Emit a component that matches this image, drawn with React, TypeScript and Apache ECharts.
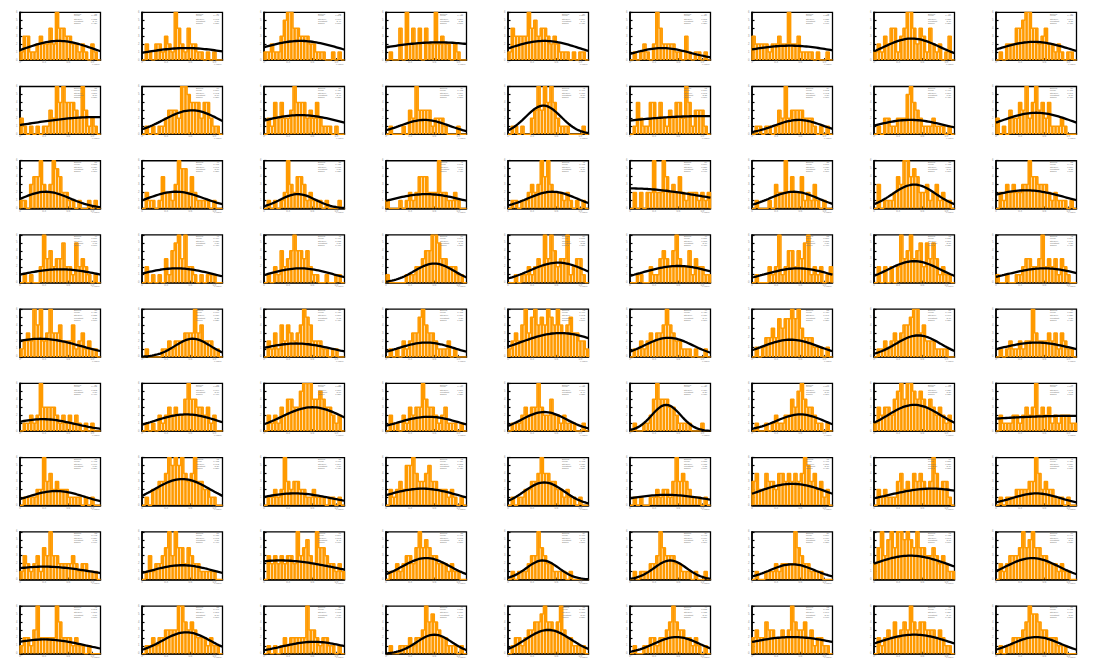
import React, { useEffect, useRef } from "react";
import * as echarts from "echarts";

// ---------- data ----------
const NBINS = 25;

const binsRow0: number[][] = [
  [1, 3, 3, 1, 1, 2, 3, 2, 2, 4, 2, 6, 4, 4, 3, 3, 2, 2, 1, 2, 1, 0, 2, 1, 0],
  [0, 2, 1, 0, 2, 2, 1, 3, 2, 1, 6, 4, 2, 1, 4, 2, 2, 1, 1, 0, 1, 0, 1, 0, 0],
  [1, 1, 2, 1, 1, 3, 5, 6, 6, 4, 4, 3, 3, 3, 2, 2, 1, 1, 1, 0, 0, 1, 0, 1, 0],
  [0, 1, 0, 0, 4, 0, 6, 2, 4, 2, 4, 0, 4, 2, 2, 6, 2, 3, 2, 2, 0, 2, 1, 0, 0],
  [1, 4, 3, 3, 3, 3, 6, 4, 5, 3, 4, 4, 3, 2, 3, 2, 1, 1, 1, 0, 1, 0, 1, 1, 0],
  [0, 1, 0, 1, 2, 1, 0, 2, 6, 4, 2, 2, 2, 2, 1, 1, 0, 3, 1, 0, 1, 1, 0, 1, 0],
  [3, 2, 2, 2, 2, 1, 2, 2, 3, 2, 2, 6, 2, 2, 3, 1, 1, 1, 1, 0, 1, 0, 0, 1, 0],
  [1, 2, 1, 3, 2, 4, 4, 1, 3, 4, 6, 6, 4, 2, 4, 3, 1, 4, 2, 1, 2, 0, 1, 3, 0],
  [0, 1, 0, 2, 2, 2, 4, 4, 5, 6, 6, 4, 4, 2, 3, 4, 2, 2, 1, 2, 1, 0, 1, 1, 0],
];
const binsRow1: number[][] = [
  [2, 1, 0, 1, 0, 1, 0, 1, 1, 3, 2, 6, 4, 6, 4, 4, 4, 3, 2, 6, 3, 1, 2, 1, 0],
  [0, 1, 0, 1, 0, 1, 1, 2, 3, 3, 3, 2, 6, 6, 5, 4, 4, 4, 2, 4, 4, 2, 1, 1, 0],
  [0, 2, 1, 4, 2, 4, 2, 2, 3, 6, 4, 4, 4, 2, 3, 2, 4, 2, 1, 1, 1, 0, 1, 0, 0],
  [0, 1, 0, 0, 0, 1, 0, 3, 2, 6, 3, 3, 3, 3, 1, 2, 2, 2, 1, 0, 0, 0, 1, 0, 0],
  [0, 1, 1, 0, 1, 0, 0, 2, 3, 6, 3, 6, 4, 6, 4, 2, 1, 1, 1, 0, 0, 0, 0, 1, 0],
  [0, 1, 4, 2, 1, 1, 4, 4, 2, 4, 2, 1, 3, 2, 4, 4, 2, 6, 4, 1, 3, 3, 3, 1, 0],
  [0, 1, 1, 0, 1, 1, 0, 1, 3, 2, 6, 2, 3, 3, 3, 3, 2, 2, 2, 1, 0, 1, 0, 1, 0],
  [0, 1, 0, 2, 2, 1, 1, 2, 2, 2, 5, 6, 4, 3, 2, 1, 1, 1, 2, 1, 1, 1, 0, 1, 0],
  [2, 0, 1, 0, 3, 2, 2, 4, 3, 6, 2, 4, 6, 3, 4, 2, 4, 1, 1, 1, 2, 1, 0, 0, 0],
];
const binsRow2: number[][] = [
  [1, 1, 0, 3, 4, 4, 6, 3, 2, 3, 6, 5, 4, 2, 2, 1, 1, 0, 1, 0, 0, 1, 0, 1, 0],
  [0, 2, 1, 1, 0, 1, 4, 2, 2, 1, 3, 6, 5, 5, 2, 4, 2, 1, 1, 1, 1, 0, 1, 0, 0],
  [0, 1, 0, 1, 0, 1, 2, 6, 3, 2, 4, 4, 3, 1, 2, 1, 1, 1, 0, 1, 0, 0, 0, 1, 0],
  [1, 0, 0, 0, 1, 0, 1, 2, 1, 2, 4, 4, 4, 2, 2, 2, 6, 2, 2, 1, 1, 2, 1, 0, 0],
  [0, 1, 1, 0, 1, 1, 2, 3, 2, 3, 6, 4, 6, 3, 2, 2, 2, 1, 2, 1, 0, 1, 0, 1, 0],
  [0, 2, 0, 2, 0, 2, 2, 6, 2, 2, 6, 4, 2, 3, 2, 4, 2, 1, 2, 2, 2, 1, 2, 1, 2],
  [0, 1, 0, 0, 0, 1, 0, 3, 2, 2, 6, 2, 4, 2, 2, 4, 1, 2, 1, 3, 1, 0, 1, 0, 0],
  [0, 3, 0, 1, 1, 1, 2, 4, 3, 6, 6, 4, 5, 4, 2, 2, 3, 1, 2, 3, 1, 2, 1, 1, 0],
  [0, 2, 1, 3, 2, 3, 2, 2, 3, 3, 6, 4, 4, 3, 3, 3, 2, 1, 2, 1, 1, 1, 0, 1, 0],
];
const binsRow3: number[][] = [
  [0, 1, 0, 1, 0, 0, 2, 6, 3, 4, 2, 3, 3, 5, 2, 2, 1, 5, 2, 3, 2, 1, 0, 1, 0],
  [0, 2, 0, 1, 0, 1, 0, 3, 1, 4, 5, 6, 3, 6, 2, 2, 1, 0, 1, 0, 1, 1, 1, 0, 0],
  [0, 1, 0, 2, 1, 4, 2, 3, 4, 6, 4, 4, 3, 4, 2, 1, 1, 0, 0, 1, 0, 0, 1, 1, 0],
  [1, 0, 0, 0, 0, 0, 1, 1, 1, 2, 2, 3, 4, 4, 6, 6, 5, 3, 3, 2, 2, 2, 1, 1, 0],
  [0, 0, 1, 0, 1, 1, 2, 1, 2, 3, 2, 6, 3, 6, 4, 2, 3, 3, 6, 1, 2, 3, 3, 1, 0],
  [0, 0, 1, 1, 0, 0, 2, 1, 1, 3, 4, 3, 2, 4, 6, 3, 2, 2, 4, 1, 3, 2, 2, 1, 1],
  [0, 1, 0, 0, 0, 2, 1, 2, 6, 1, 2, 4, 4, 2, 4, 3, 5, 6, 1, 2, 1, 2, 0, 1, 2],
  [0, 2, 0, 2, 0, 2, 0, 2, 6, 3, 4, 6, 3, 4, 5, 2, 5, 3, 5, 3, 1, 2, 1, 1, 0],
  [1, 0, 0, 1, 0, 0, 1, 1, 2, 3, 3, 2, 2, 3, 6, 2, 3, 2, 3, 1, 3, 2, 1, 0, 0],
];
const binsRow4: number[][] = [
  [1, 2, 3, 2, 6, 4, 6, 2, 3, 6, 3, 3, 4, 2, 2, 2, 4, 1, 2, 3, 1, 2, 1, 1, 0],
  [0, 1, 0, 0, 0, 0, 1, 1, 2, 1, 2, 2, 2, 3, 3, 3, 6, 3, 4, 2, 2, 2, 1, 1, 0],
  [0, 2, 1, 3, 1, 4, 2, 4, 3, 2, 3, 4, 6, 5, 4, 2, 2, 2, 1, 1, 0, 1, 1, 0, 0],
  [0, 1, 0, 1, 0, 2, 1, 2, 3, 3, 5, 6, 4, 3, 3, 2, 1, 1, 1, 2, 0, 1, 0, 0, 0],
  [1, 2, 3, 2, 4, 6, 3, 5, 6, 4, 5, 4, 6, 5, 4, 6, 4, 3, 4, 5, 3, 3, 2, 2, 1],
  [0, 1, 1, 2, 1, 2, 3, 2, 3, 3, 4, 6, 4, 3, 2, 2, 1, 1, 1, 0, 1, 0, 0, 1, 0],
  [0, 1, 0, 1, 2, 2, 3, 2, 4, 3, 4, 4, 5, 4, 5, 3, 2, 2, 2, 1, 1, 1, 0, 1, 0],
  [0, 1, 1, 2, 1, 2, 3, 2, 3, 4, 4, 5, 6, 6, 3, 4, 2, 2, 2, 1, 1, 1, 1, 0, 0],
  [0, 1, 0, 1, 2, 1, 1, 2, 1, 2, 2, 6, 3, 2, 2, 2, 3, 2, 3, 1, 3, 2, 1, 1, 0],
];
const binsRow5: number[][] = [
  [0, 1, 1, 2, 1, 2, 6, 3, 3, 3, 3, 2, 1, 2, 1, 2, 1, 2, 1, 0, 1, 0, 1, 0, 0],
  [0, 1, 0, 1, 0, 2, 1, 2, 3, 2, 3, 2, 2, 4, 6, 4, 4, 3, 3, 2, 3, 1, 2, 0, 0],
  [0, 2, 1, 2, 1, 3, 2, 4, 4, 3, 3, 5, 6, 6, 6, 4, 4, 5, 4, 3, 3, 2, 1, 2, 0],
  [0, 2, 1, 1, 0, 2, 1, 3, 2, 3, 3, 6, 4, 3, 3, 2, 1, 2, 3, 1, 1, 1, 0, 1, 0],
  [0, 1, 1, 1, 2, 3, 2, 3, 3, 6, 3, 2, 2, 4, 2, 2, 1, 2, 1, 1, 1, 0, 0, 1, 0],
  [0, 1, 0, 0, 1, 1, 2, 4, 6, 4, 4, 4, 3, 3, 2, 1, 1, 1, 1, 0, 0, 0, 1, 0, 0],
  [0, 1, 0, 0, 1, 0, 1, 2, 1, 1, 2, 2, 4, 3, 5, 6, 4, 3, 3, 2, 1, 1, 0, 1, 0],
  [1, 3, 2, 3, 3, 2, 4, 5, 6, 4, 6, 6, 5, 4, 5, 4, 3, 4, 3, 2, 3, 2, 1, 2, 0],
  [0, 2, 1, 1, 1, 2, 2, 1, 2, 3, 2, 3, 6, 2, 3, 2, 3, 1, 2, 1, 2, 2, 2, 1, 1],
];
const binsRow6: number[][] = [
  [0, 1, 1, 1, 1, 2, 2, 6, 3, 4, 2, 3, 2, 2, 2, 1, 1, 1, 1, 0, 1, 0, 1, 0, 0],
  [0, 1, 0, 2, 2, 3, 3, 4, 6, 5, 6, 5, 6, 4, 3, 4, 6, 3, 3, 2, 2, 1, 1, 0, 0],
  [0, 1, 1, 2, 1, 2, 6, 3, 2, 3, 3, 2, 2, 1, 1, 2, 1, 1, 1, 0, 1, 1, 0, 1, 0],
  [0, 2, 1, 2, 3, 2, 5, 5, 6, 4, 3, 3, 4, 5, 3, 3, 2, 2, 2, 1, 2, 1, 0, 1, 0],
  [0, 1, 0, 1, 1, 2, 2, 3, 3, 4, 6, 4, 4, 3, 3, 2, 2, 1, 2, 1, 1, 0, 1, 0, 0],
  [0, 1, 0, 1, 0, 0, 1, 1, 2, 1, 2, 2, 1, 3, 6, 3, 4, 3, 2, 1, 1, 1, 0, 1, 0],
  [3, 4, 2, 2, 4, 3, 3, 2, 4, 4, 3, 4, 3, 4, 3, 4, 6, 5, 3, 4, 2, 3, 1, 2, 0],
  [0, 2, 1, 2, 1, 1, 1, 3, 4, 2, 3, 2, 4, 3, 4, 3, 2, 3, 6, 4, 2, 3, 3, 1, 0],
  [0, 1, 0, 1, 1, 1, 2, 2, 2, 2, 3, 3, 6, 4, 2, 3, 2, 2, 1, 1, 1, 0, 1, 0, 0],
];
const binsRow7: number[][] = [
  [1, 3, 2, 1, 2, 3, 1, 4, 3, 6, 3, 3, 2, 2, 2, 2, 3, 2, 1, 2, 2, 1, 1, 1, 0],
  [0, 1, 3, 1, 2, 2, 3, 4, 6, 3, 6, 4, 4, 2, 4, 3, 2, 2, 1, 1, 1, 1, 1, 0, 0],
  [0, 3, 2, 3, 2, 3, 2, 3, 3, 2, 6, 3, 4, 5, 3, 2, 6, 4, 4, 3, 2, 2, 1, 2, 1],
  [0, 1, 1, 2, 1, 2, 3, 3, 2, 4, 6, 4, 5, 4, 3, 3, 2, 2, 2, 1, 2, 1, 1, 0, 0],
  [0, 1, 0, 1, 1, 1, 2, 3, 3, 6, 4, 3, 2, 2, 1, 1, 1, 1, 0, 1, 0, 0, 0, 0, 0],
  [0, 1, 0, 1, 1, 1, 2, 2, 3, 6, 4, 3, 3, 3, 2, 2, 1, 1, 1, 0, 1, 0, 0, 1, 0],
  [0, 1, 0, 0, 1, 1, 1, 2, 1, 2, 2, 2, 2, 6, 4, 3, 2, 2, 1, 1, 1, 1, 0, 0, 0],
  [2, 4, 6, 3, 5, 6, 4, 6, 6, 5, 6, 5, 4, 6, 4, 4, 3, 3, 4, 3, 2, 3, 2, 1, 1],
  [0, 2, 1, 2, 3, 3, 3, 4, 6, 4, 5, 6, 4, 4, 3, 3, 2, 2, 2, 1, 2, 1, 1, 0, 0],
];
const binsRow8: number[][] = [
  [1, 2, 2, 1, 3, 6, 2, 2, 2, 2, 2, 6, 4, 2, 2, 2, 1, 2, 1, 1, 0, 1, 0, 0, 0],
  [0, 1, 1, 2, 1, 2, 2, 3, 3, 3, 3, 6, 6, 4, 3, 4, 3, 2, 2, 2, 1, 2, 1, 1, 0],
  [0, 1, 0, 1, 0, 1, 2, 1, 2, 2, 2, 2, 2, 6, 3, 3, 2, 1, 2, 2, 1, 1, 0, 1, 0],
  [0, 1, 0, 0, 1, 1, 1, 2, 1, 2, 2, 3, 6, 4, 5, 4, 3, 2, 2, 1, 1, 1, 0, 1, 0],
  [0, 1, 2, 2, 1, 2, 3, 3, 4, 4, 5, 6, 4, 4, 3, 4, 6, 3, 2, 2, 1, 1, 1, 1, 0],
  [0, 1, 0, 0, 1, 1, 2, 2, 1, 2, 2, 3, 4, 6, 4, 3, 3, 2, 2, 1, 2, 1, 0, 1, 0],
  [2, 3, 2, 2, 4, 3, 3, 2, 2, 3, 2, 3, 6, 4, 3, 3, 4, 2, 3, 1, 2, 2, 1, 1, 0],
  [0, 2, 1, 2, 3, 2, 4, 2, 3, 4, 3, 6, 4, 3, 4, 4, 3, 3, 3, 2, 3, 2, 1, 1, 0],
  [0, 1, 0, 1, 1, 2, 2, 2, 3, 4, 6, 5, 5, 4, 3, 3, 2, 2, 2, 1, 1, 1, 0, 0, 0],
];

// Gaussian fit parameters: peak (fraction of frame height), mean and sigma (fraction of x range)
const fitAmp: number[] = [
  0.4, 0.25, 0.4, 0.37, 0.4, 0.25, 0.3, 0.45, 0.38,
  0.36, 0.5, 0.4, 0.3, 0.6, 0.38, 0.3, 0.3, 0.45,
  0.35, 0.35, 0.3, 0.3, 0.35, 0.42, 0.35, 0.5, 0.38,
  0.28, 0.3, 0.3, 0.4, 0.42, 0.35, 0.3, 0.45, 0.3,
  0.38, 0.38, 0.28, 0.3, 0.5, 0.4, 0.36, 0.45, 0.3,
  0.25, 0.35, 0.5, 0.3, 0.4, 0.55, 0.35, 0.55, 0.32,
  0.3, 0.55, 0.25, 0.35, 0.48, 0.22, 0.45, 0.35, 0.25,
  0.27, 0.3, 0.4, 0.45, 0.4, 0.4, 0.32, 0.5, 0.45,
  0.3, 0.45, 0.25, 0.4, 0.5, 0.35, 0.35, 0.4, 0.35,
];
const fitMean: number[] = [
  0.48, 0.55, 0.45, 0.65, 0.45, 0.4, 0.47, 0.47, 0.47,
  0.95, 0.62, 0.45, 0.48, 0.44, 0.9, 0.58, 0.45, 0.5,
  0.32, 0.42, 0.42, 0.5, 0.55, 0.0, 0.52, 0.5, 0.37,
  0.5, 0.43, 0.45, 0.6, 0.62, 0.6, 0.57, 0.5, 0.6,
  0.25, 0.63, 0.4, 0.5, 0.65, 0.48, 0.48, 0.55, 0.5,
  0.28, 0.55, 0.6, 0.53, 0.45, 0.45, 0.6, 0.5, 0.95,
  0.45, 0.5, 0.38, 0.45, 0.45, 0.45, 0.5, 0.72, 0.5,
  0.3, 0.5, 0.2, 0.5, 0.43, 0.5, 0.5, 0.45, 0.45,
  0.3, 0.55, 0.62, 0.6, 0.5, 0.58, 0.5, 0.5, 0.5,
];
const fitSigma: number[] = [
  0.42, 0.55, 0.5, 0.8, 0.45, 0.35, 0.6, 0.35, 0.45,
  0.85, 0.35, 0.55, 0.3, 0.22, 1.2, 0.3, 0.45, 0.45,
  0.3, 0.35, 0.22, 0.45, 0.3, 0.9, 0.3, 0.27, 0.5,
  0.5, 0.45, 0.4, 0.25, 0.35, 0.45, 0.4, 0.33, 0.45,
  0.5, 0.22, 0.45, 0.35, 0.5, 0.3, 0.35, 0.28, 0.45,
  0.4, 0.4, 0.38, 0.38, 0.28, 0.18, 0.3, 0.33, 1.5,
  0.35, 0.35, 0.45, 0.45, 0.25, 0.5, 0.45, 0.55, 0.3,
  0.6, 0.4, 0.7, 0.3, 0.2, 0.2, 0.28, 0.5, 0.33,
  0.5, 0.3, 0.4, 0.22, 0.28, 0.28, 0.6, 0.45, 0.3,
];

const xTickValues = [0, 0.3, 0.6, 0.9];
const xTickLabels = ["0", "0.3", "0.6", "0.9"];
const statLabels = ["Entries", "Mean", "Std Dev", "Constant", "Sigma"];
const xTitle = "x value";

// ---------- layout / style ----------
const COLS = 9;
const PANEL_W = 122;
const PANEL_H = 74.22;
const FRAME_L = 20;
const FRAME_T = 12.3;
const FRAME_W = 80.5;
const FRAME_H = 47.7;
const ORANGE = "#ff9a00";
const FILL_FRACTION = 0.8;

const allBins: number[][] = [
  ...binsRow0, ...binsRow1, ...binsRow2, ...binsRow3, ...binsRow4,
  ...binsRow5, ...binsRow6, ...binsRow7, ...binsRow8,
];

function buildOption() {
  const grid: any[] = [];
  const xAxis: any[] = [];
  const yAxis: any[] = [];
  const series: any[] = [];
  const graphic: any[] = [];

  allBins.forEach((bins, i) => {
    const r = Math.floor(i / COLS);
    const c = i % COLS;
    const ymax = Math.max(...bins);
    const px = c * PANEL_W;
    const py = r * PANEL_H;

    grid.push({
      left: px + FRAME_L,
      top: py + FRAME_T,
      width: FRAME_W,
      height: FRAME_H,
      show: true,
      borderColor: "#000",
      borderWidth: 1.3,
      backgroundColor: "transparent",
    });
    xAxis.push({
      type: "value",
      gridIndex: i,
      min: 0,
      max: 1,
      interval: 0.3,
      axisLine: { show: true, onZero: false, lineStyle: { color: "#000", width: 1.6 } },
      axisTick: { show: true, inside: true, length: 2, lineStyle: { color: "#000", width: 0.8 } },
      axisLabel: {
        fontSize: 2.6,
        color: "#888",
        margin: 1.2,
        showMaxLabel: false,
        formatter: (v: number) => {
          const k = xTickValues.findIndex((t) => Math.abs(t - v) < 1e-6);
          return k >= 0 ? xTickLabels[k] : "";
        },
      },
      splitLine: { show: false },
    });
    yAxis.push({
      type: "value",
      gridIndex: i,
      min: 0,
      max: ymax,
      interval: 1,
      axisLine: { show: true, onZero: false, lineStyle: { color: "#000", width: 1.6 } },
      axisTick: { show: true, inside: true, length: 2.5, lineStyle: { color: "#000", width: 1.2 } },
      axisLabel: { fontSize: 2.6, color: "#888", margin: 2.5 },
      splitLine: { show: false },
    });

    // histogram bars
    series.push({
      type: "custom",
      xAxisIndex: i,
      yAxisIndex: i,
      silent: true,
      clip: true,
      data: bins.map((v, k) => [(k + 0.5) / NBINS, v]),
      renderItem: (_p: any, api: any) => {
        const xc = api.value(0);
        const v = api.value(1);
        const half = FILL_FRACTION / 2 / NBINS;
        const p0 = api.coord([xc - half, v]);
        const p1 = api.coord([xc + half, 0]);
        return {
          type: "rect",
          shape: { x: p0[0], y: p0[1], width: p1[0] - p0[0], height: p1[1] - p0[1] },
          style: { fill: ORANGE },
        };
      },
      z: 2,
    });

    // histogram outline (step)
    const step: number[][] = [[0, 0]];
    bins.forEach((v, k) => {
      step.push([k / NBINS, v]);
      step.push([(k + 1) / NBINS, v]);
    });
    step.push([1, 0]);
    series.push({
      type: "line",
      xAxisIndex: i,
      yAxisIndex: i,
      data: step,
      symbol: "none",
      silent: true,
      lineStyle: { color: ORANGE, width: 1.5 },
      z: 3,
    });

    // gaussian fit
    const a = fitAmp[i] * ymax;
    const m = fitMean[i];
    const s = fitSigma[i];
    const curve: number[][] = [];
    for (let j = 0; j <= 40; j++) {
      const x = j / 40;
      curve.push([x, a * Math.exp(-((x - m) * (x - m)) / (2 * s * s))]);
    }
    series.push({
      type: "line",
      xAxisIndex: i,
      yAxisIndex: i,
      data: curve,
      symbol: "none",
      silent: true,
      lineStyle: { color: "#000", width: 2.3 },
      z: 5,
    });

    // stats box texts
    const entries = bins.reduce((t, v) => t + v, 0);
    const mean = bins.reduce((t, v, k) => t + (v * (k + 0.5)) / NBINS, 0) / Math.max(entries, 1);
    const std = Math.sqrt(
      bins.reduce((t, v, k) => t + v * ((k + 0.5) / NBINS - mean) ** 2, 0) / Math.max(entries, 1)
    );
    const values = [String(entries), mean.toFixed(3), std.toFixed(3), a.toFixed(2), s.toFixed(3)];
    const rowsY = [14, 15.8, 19, 21.3, 23.3];
    statLabels.forEach((lab, k) => {
      graphic.push({
        type: "text",
        left: px + 74,
        top: py + rowsY[k] - 1.2,
        silent: true,
        style: { text: lab, fontSize: 2.3, fill: "#777", fontFamily: "Liberation Sans" },
        z: 10,
      });
      graphic.push({
        type: "text",
        right: 1098 - (px + 97),
        top: py + rowsY[k] - 1.2,
        silent: true,
        style: { text: values[k], fontSize: 2.3, fill: "#777", fontFamily: "Liberation Sans" },
        z: 10,
      });
    });
    graphic.push({
      type: "text",
      right: 1098 - (px + 99.5),
      top: py + 63,
      silent: true,
      style: { text: xTitle, fontSize: 2.4, fill: "#777", fontFamily: "Liberation Sans" },
      z: 10,
    });
  });

  return {
    animation: false,
    backgroundColor: "#ffffff",
    textStyle: { fontFamily: "Liberation Sans" },
    grid,
    xAxis,
    yAxis,
    series,
    graphic,
  };
}

export default function App() {
  const ref = useRef<HTMLDivElement>(null);
  useEffect(() => {
    if (!ref.current) return;
    const chart = echarts.init(ref.current, undefined, { renderer: "svg" });
    chart.setOption(buildOption() as any);
    return () => chart.dispose();
  }, []);
  return (
    <div
      ref={ref}
      style={{ position: "absolute", left: 0, top: 0, width: 1098, height: 668, background: "#fff" }}
    />
  );
}
